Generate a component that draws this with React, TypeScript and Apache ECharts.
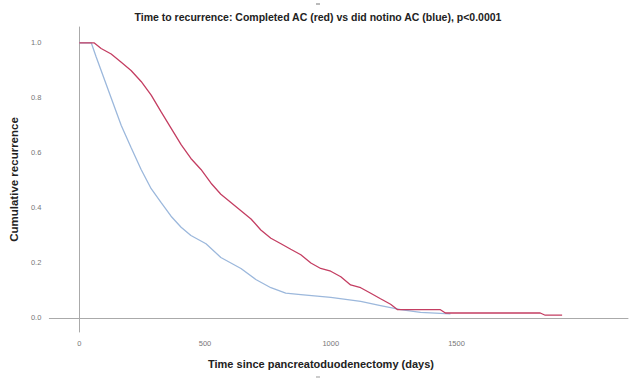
import React, { useEffect, useRef } from "react";
import * as echarts from "echarts";

const titleText = "Time to recurrence: Completed AC (red) vs did notino AC (blue), p<0.0001";
const xTitle = "Time since pancreatoduodenectomy (days)";
const yTitle = "Cumulative recurrence";
const xTicks = [0, 500, 1000, 1500];
const yTicks = [0, 0.2, 0.4, 0.6, 0.8, 1.0];

// Completed AC (red): days and cumulative recurrence
const redDays = [0, 60, 87, 127, 167, 206, 246, 286, 325, 365, 405, 444, 484, 524, 563, 603, 643, 683, 722, 762, 802, 841, 881, 921, 960, 1000, 1040, 1079, 1119, 1159, 1198, 1238, 1266, 1436, 1456, 1833, 1853, 1920];
const redVals = [1.0, 1.0, 0.98, 0.96, 0.93, 0.9, 0.86, 0.81, 0.75, 0.69, 0.63, 0.58, 0.54, 0.49, 0.45, 0.42, 0.39, 0.36, 0.32, 0.29, 0.27, 0.25, 0.23, 0.2, 0.18, 0.17, 0.15, 0.12, 0.11, 0.09, 0.07, 0.05, 0.03, 0.03, 0.018, 0.018, 0.01, 0.01];

// Did not / no AC (blue)
const blueDays = [0, 48, 67, 87, 127, 167, 206, 246, 286, 325, 365, 405, 444, 504, 563, 643, 702, 762, 821, 881, 1000, 1119, 1198, 1278, 1357, 1476];
const blueVals = [1.0, 1.0, 0.95, 0.9, 0.8, 0.7, 0.62, 0.54, 0.47, 0.42, 0.37, 0.33, 0.3, 0.27, 0.22, 0.18, 0.14, 0.11, 0.09, 0.085, 0.075, 0.06, 0.045, 0.03, 0.02, 0.015];

export default function App() {
  const ref = useRef<HTMLDivElement>(null);
  useEffect(() => {
    if (!ref.current) return;
    const chart = echarts.init(ref.current, undefined, { renderer: "svg" });
    const red = redDays.map((d, i) => [d, redVals[i]]);
    const blue = blueDays.map((d, i) => [d, blueVals[i]]);
    chart.setOption({
      animation: false,
      backgroundColor: "#ffffff",
      title: {
        text: titleText,
        left: "center",
        top: 6,
        textStyle: { fontFamily: "Liberation Sans", fontSize: 10.5, fontWeight: "bold", color: "#222" },
      },
      grid: { left: 48, right: 8, top: 27, bottom: 48 },
      graphic: [
        {
          type: "text",
          left: 320 - 112,
          top: 358,
          style: {
            text: xTitle,
            fontFamily: "Liberation Sans",
            fontSize: 11,
            fontWeight: "bold",
            fill: "#222",
          },
        },
        { type: "line", shape: { x1: 316, y1: 4, x2: 320, y2: 4 }, style: { stroke: "#777", lineWidth: 1 } },
        { type: "line", shape: { x1: 316, y1: 377, x2: 320, y2: 377 }, style: { stroke: "#999", lineWidth: 1 } },
      ],
      xAxis: {
        type: "value",
        min: -119,
        max: 2182,
        axisLine: { show: true, lineStyle: { color: "#aaaaaa", width: 1 } },
        axisTick: { show: false },
        splitLine: { show: false },
        axisLabel: {
          customValues: xTicks,
          margin: 7,
          formatter: (v: number) => String(Math.round(v)),
          fontFamily: "Liberation Sans",
          fontSize: 7.5,
          color: "#777",
        },
      },
      yAxis: {
        type: "value",
        min: -0.051,
        max: 1.058,
        name: yTitle,
        nameLocation: "middle",
        nameGap: 25,
        nameTextStyle: { fontFamily: "Liberation Sans", fontSize: 11.5, fontWeight: "bold", color: "#222" },
        axisLine: { show: true, lineStyle: { color: "#aaaaaa", width: 1 } },
        axisTick: { show: false },
        splitLine: { show: false },
        axisLabel: {
          customValues: yTicks,
          margin: 8,
          formatter: (v: number) => v.toFixed(1),
          fontFamily: "Liberation Sans",
          fontSize: 7.5,
          color: "#777",
        },
      },
      series: [
        {
          type: "line",
          data: blue,
          showSymbol: false,
          lineStyle: { color: "#9cb8dc", width: 1.3 },
          z: 2,
        },
        {
          type: "line",
          data: red,
          showSymbol: false,
          lineStyle: { color: "#c43e62", width: 1.3 },
          z: 3,
        },
      ],
    });
    return () => chart.dispose();
  }, []);
  return <div ref={ref} style={{ width: 636, height: 380, position: "absolute", left: 0, top: 0 }} />;
}
